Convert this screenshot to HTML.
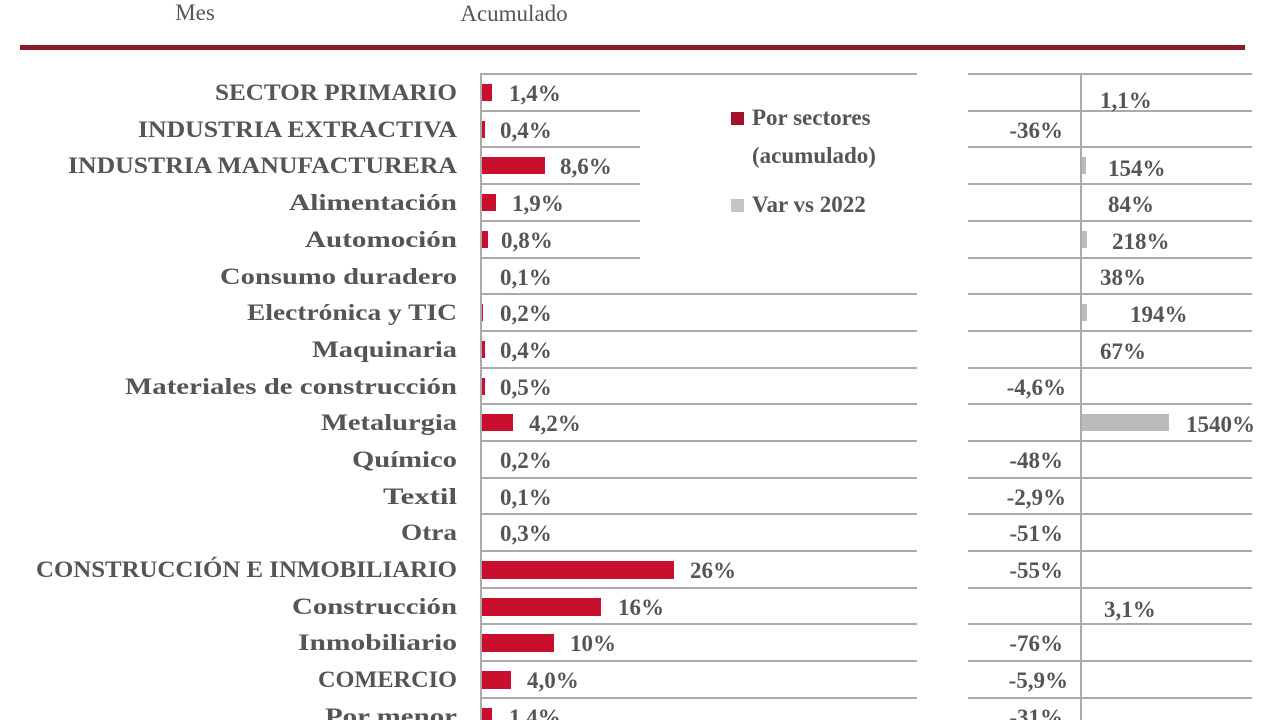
<!DOCTYPE html>
<html><head><meta charset="utf-8"><style>
html,body{margin:0;padding:0;background:#fff;width:1280px;height:720px;overflow:hidden}
svg text{font-family:"Liberation Serif",serif;font-weight:bold;fill:#555;font-size:23px}
</style></head><body>
<svg width="1280" height="720" viewBox="0 0 1280 720" xmlns="http://www.w3.org/2000/svg">
<text x="195" y="20" text-anchor="middle" font-size="22" style="font-weight:normal">Mes</text>
<text x="514" y="21" text-anchor="middle" font-size="23" style="font-weight:normal">Acumulado</text>
<rect x="20" y="45" width="1225" height="5" fill="#8a1c2c"/>
<g stroke="#aaa" stroke-width="2">
<line x1="480" y1="74" x2="917" y2="74"/>
<line x1="480" y1="111" x2="640" y2="111"/>
<line x1="480" y1="147" x2="640" y2="147"/>
<line x1="480" y1="184" x2="640" y2="184"/>
<line x1="480" y1="221" x2="640" y2="221"/>
<line x1="480" y1="258" x2="640" y2="258"/>
<line x1="480" y1="294" x2="917" y2="294"/>
<line x1="480" y1="331" x2="917" y2="331"/>
<line x1="480" y1="368" x2="917" y2="368"/>
<line x1="480" y1="404" x2="917" y2="404"/>
<line x1="480" y1="441" x2="917" y2="441"/>
<line x1="480" y1="478" x2="917" y2="478"/>
<line x1="480" y1="514" x2="917" y2="514"/>
<line x1="480" y1="551" x2="917" y2="551"/>
<line x1="480" y1="588" x2="917" y2="588"/>
<line x1="480" y1="624" x2="917" y2="624"/>
<line x1="480" y1="661" x2="917" y2="661"/>
<line x1="480" y1="698" x2="917" y2="698"/>
<line x1="968" y1="74" x2="1252" y2="74"/>
<line x1="968" y1="111" x2="1252" y2="111"/>
<line x1="968" y1="147" x2="1252" y2="147"/>
<line x1="968" y1="184" x2="1252" y2="184"/>
<line x1="968" y1="221" x2="1252" y2="221"/>
<line x1="968" y1="258" x2="1252" y2="258"/>
<line x1="968" y1="294" x2="1252" y2="294"/>
<line x1="968" y1="331" x2="1252" y2="331"/>
<line x1="968" y1="368" x2="1252" y2="368"/>
<line x1="968" y1="404" x2="1252" y2="404"/>
<line x1="968" y1="441" x2="1252" y2="441"/>
<line x1="968" y1="478" x2="1252" y2="478"/>
<line x1="968" y1="514" x2="1252" y2="514"/>
<line x1="968" y1="551" x2="1252" y2="551"/>
<line x1="968" y1="588" x2="1252" y2="588"/>
<line x1="968" y1="624" x2="1252" y2="624"/>
<line x1="968" y1="661" x2="1252" y2="661"/>
<line x1="968" y1="698" x2="1252" y2="698"/>
<line x1="481" y1="74" x2="481" y2="720"/>
<line x1="1081" y1="74" x2="1081" y2="720"/>
</g>
<g text-anchor="end">
<text x="457" y="100" textLength="242" lengthAdjust="spacingAndGlyphs">SECTOR PRIMARIO</text>
<text x="457" y="137" textLength="319" lengthAdjust="spacingAndGlyphs">INDUSTRIA EXTRACTIVA</text>
<text x="457" y="173" textLength="389" lengthAdjust="spacingAndGlyphs">INDUSTRIA MANUFACTURERA</text>
<text x="457" y="210" textLength="168" lengthAdjust="spacingAndGlyphs">Alimentación</text>
<text x="457" y="247" textLength="152" lengthAdjust="spacingAndGlyphs">Automoción</text>
<text x="457" y="284" textLength="237" lengthAdjust="spacingAndGlyphs">Consumo duradero</text>
<text x="457" y="320" textLength="210" lengthAdjust="spacingAndGlyphs">Electrónica y TIC</text>
<text x="457" y="357" textLength="145" lengthAdjust="spacingAndGlyphs">Maquinaria</text>
<text x="457" y="394" textLength="332" lengthAdjust="spacingAndGlyphs">Materiales de construcción</text>
<text x="457" y="430" textLength="136" lengthAdjust="spacingAndGlyphs">Metalurgia</text>
<text x="457" y="467" textLength="105" lengthAdjust="spacingAndGlyphs">Químico</text>
<text x="457" y="504" textLength="74" lengthAdjust="spacingAndGlyphs">Textil</text>
<text x="457" y="540" textLength="56" lengthAdjust="spacingAndGlyphs">Otra</text>
<text x="457" y="577" textLength="421" lengthAdjust="spacingAndGlyphs">CONSTRUCCIÓN E INMOBILIARIO</text>
<text x="457" y="614" textLength="165" lengthAdjust="spacingAndGlyphs">Construcción</text>
<text x="457" y="650" textLength="159" lengthAdjust="spacingAndGlyphs">Inmobiliario</text>
<text x="457" y="687" textLength="139" lengthAdjust="spacingAndGlyphs">COMERCIO</text>
<text x="457" y="724" textLength="132" lengthAdjust="spacingAndGlyphs">Por menor</text>
</g>
<g fill="#c8102e">
<rect x="482" y="84" width="10" height="17"/>
<rect x="482" y="121" width="3" height="17"/>
<rect x="482" y="157" width="63" height="17"/>
<rect x="482" y="194" width="14" height="17"/>
<rect x="482" y="231" width="6" height="17"/>
<rect x="482" y="304" width="1" height="17"/>
<rect x="482" y="341" width="3" height="17"/>
<rect x="482" y="378" width="3" height="17"/>
<rect x="482" y="414" width="31" height="17"/>
<rect x="482" y="561" width="192" height="18"/>
<rect x="482" y="598" width="119" height="18"/>
<rect x="482" y="634" width="72" height="18"/>
<rect x="482" y="671" width="29" height="18"/>
<rect x="482" y="708" width="10" height="17"/>
</g>
<g>
<text x="509" y="101">1,4%</text>
<text x="500" y="138">0,4%</text>
<text x="560" y="174">8,6%</text>
<text x="512" y="211">1,9%</text>
<text x="501" y="248">0,8%</text>
<text x="500" y="285">0,1%</text>
<text x="500" y="321">0,2%</text>
<text x="500" y="358">0,4%</text>
<text x="500" y="395">0,5%</text>
<text x="529" y="431">4,2%</text>
<text x="500" y="468">0,2%</text>
<text x="500" y="505">0,1%</text>
<text x="500" y="541">0,3%</text>
<text x="690" y="578">26%</text>
<text x="618" y="615">16%</text>
<text x="570" y="651">10%</text>
<text x="527" y="688">4,0%</text>
<text x="509" y="725">1,4%</text>
</g>
<rect x="731" y="112" width="13" height="13" fill="#a3122a"/>
<text x="752" y="125">Por sectores</text>
<text x="752" y="163">(acumulado)</text>
<rect x="731" y="199" width="13" height="13" fill="#c4c4c4"/>
<text x="752" y="212">Var vs 2022</text>
<g fill="#bbb">
<rect x="1082" y="157" width="4" height="17"/>
<rect x="1082" y="231" width="5" height="17"/>
<rect x="1082" y="304" width="5" height="17"/>
<rect x="1082" y="414" width="87" height="17"/>
</g>
<g>
<text x="1100" y="108">1,1%</text>
<text x="1108" y="176">154%</text>
<text x="1108" y="212">84%</text>
<text x="1112" y="249">218%</text>
<text x="1100" y="285">38%</text>
<text x="1130" y="322">194%</text>
<text x="1100" y="359">67%</text>
<text x="1186" y="432">1540%</text>
<text x="1104" y="617">3,1%</text>
</g>
<g text-anchor="end">
<text x="1063" y="138">-36%</text>
<text x="1066" y="395">-4,6%</text>
<text x="1063" y="468">-48%</text>
<text x="1066" y="505">-2,9%</text>
<text x="1063" y="541">-51%</text>
<text x="1063" y="578">-55%</text>
<text x="1063" y="651">-76%</text>
<text x="1068" y="688">-5,9%</text>
<text x="1063" y="725">-31%</text>
</g>
</svg>
</body></html>
